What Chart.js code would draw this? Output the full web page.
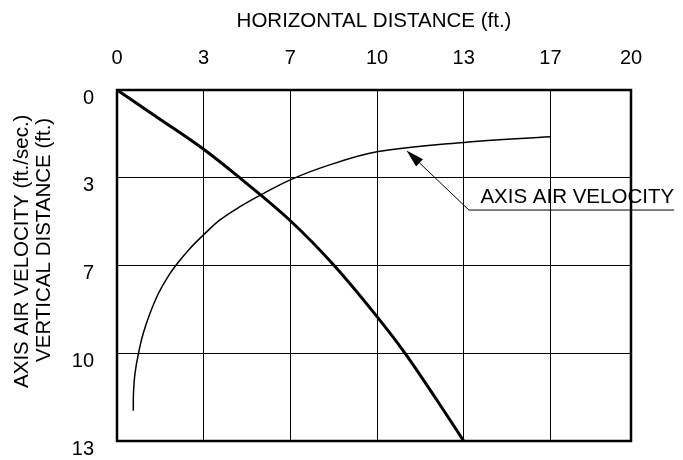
<!DOCTYPE html>
<html>
<head>
<meta charset="utf-8">
<script src="https://cdn.jsdelivr.net/npm/chart.js@4.4.1/dist/chart.umd.min.js"></script>
<style>
  html, body { margin: 0; padding: 0; background: #fff; }
  #wrap { width: 683px; height: 460px; }
</style>
</head>
<body>
<div id="wrap"><canvas id="chart"></canvas></div>
<script>
// values are in grid units: 1 unit = one column / one row of the drawing grid
const xTickLabels = ['0', '3', '7', '10', '13', '17', '20'];
const yTickLabels = ['0', '3', '7', '10', '13'];

// vertical distance (thick curve)
const trajectoryX = [0, 0.5, 1.0, 1.4, 2.0, 2.5, 3.0, 3.33, 3.69, 4.0];
const trajectoryY = [0, 0.335, 0.676, 0.988, 1.49, 1.994, 2.583, 3.009, 3.533, 4.0];

// axis air velocity (thin curve)
const velocityX = [0.188, 0.19, 0.208, 0.246, 0.303, 0.381, 0.476, 0.592, 0.707, 0.842, 1.004, 1.188, 1.419, 1.669, 2.0, 2.419, 3.0, 4.0, 5.0];
const velocityY = [3.655, 3.456, 3.228, 3.009, 2.773, 2.545, 2.322, 2.120, 1.963, 1.805, 1.645, 1.481, 1.330, 1.189, 1.024, 0.865, 0.705, 0.598, 0.532];

const FONT = '"Liberation Sans", Arial, sans-serif';
Chart.defaults.font.family = FONT;
Chart.defaults.color = '#000';

const toPoints = (xs, ys) => xs.map((x, i) => ({x: x, y: ys[i]}));

// the last column of the source grid is a little narrower than the others
const xTickAt = [0, 1, 2, 3, 4, 5, 5.93];

const framePlugin = {
    id: 'frame',
    afterDatasetsDraw(chart) {
        const {ctx, chartArea: a} = chart;
        ctx.save();
        ctx.strokeStyle = '#000';
        ctx.lineWidth = 2.5;
        ctx.strokeRect(a.left, a.top, a.right - a.left, a.bottom - a.top);
        ctx.restore();
    }
};

const calloutPlugin = {
    id: 'callout',
    afterDraw(chart, args, opts) {
        const {ctx, scales: {x, y}} = chart;
        const tx = x.getPixelForValue(opts.tip.x), ty = y.getPixelForValue(opts.tip.y);
        const ex = x.getPixelForValue(opts.elbow.x), ey = y.getPixelForValue(opts.elbow.y);
        ctx.save();
        ctx.font = '20.5px ' + FONT;
        const w = ctx.measureText(opts.text).width;
        ctx.strokeStyle = '#000';
        ctx.fillStyle = '#000';
        ctx.lineWidth = 1;

        // arrow head
        const dx = tx - ex, dy = ty - ey;
        const len = Math.sqrt(dx * dx + dy * dy);
        const ux = dx / len, uy = dy / len;
        const bx = tx - ux * 18, by = ty - uy * 18;
        ctx.beginPath();
        ctx.moveTo(tx, ty);
        ctx.lineTo(bx - uy * 5, by + ux * 5);
        ctx.lineTo(bx + uy * 5, by - ux * 5);
        ctx.closePath();
        ctx.fill();

        // leader + underline
        ctx.beginPath();
        ctx.moveTo(bx, by);
        ctx.lineTo(ex, ey);
        ctx.lineTo(ex + 11.5 + w, ey);
        ctx.stroke();

        ctx.textBaseline = 'alphabetic';
        ctx.textAlign = 'left';
        ctx.fillText(opts.text, ex + 11.5, ey - 7);
        ctx.restore();
    }
};

new Chart(document.getElementById('chart'), {
    type: 'line',
    data: {
        datasets: [{
            label: 'Vertical distance',
            data: toPoints(trajectoryX, trajectoryY),
            borderColor: '#000',
            borderWidth: 3,
            pointRadius: 0,
            cubicInterpolationMode: 'monotone',
            fill: false
        }, {
            label: 'Axis air velocity',
            data: toPoints(velocityX, velocityY),
            borderColor: '#000',
            borderWidth: 1.5,
            pointRadius: 0,
            tension: 0.35,
            fill: false
        }]
    },
    options: {
        responsive: true,
        maintainAspectRatio: false,
        animation: false,
        devicePixelRatio: 1,
        layout: {padding: {left: 4, right: 52, top: 0, bottom: 19}},
        plugins: {
            legend: {display: false},
            tooltip: {enabled: false},
            callout: {
                text: 'AXIS AIR VELOCITY',
                tip: {x: 3.34, y: 0.69},
                elbow: {x: 4.06, y: 1.368}
            }
        },
        scales: {
            x: {
                type: 'linear',
                position: 'top',
                min: 0,
                max: 5.93,
                afterBuildTicks: axis => { axis.ticks = xTickAt.map(v => ({value: v})); },
                afterFit: axis => { axis.height = 90; },
                grid: {color: '#000', lineWidth: 1, drawTicks: false},
                border: {display: false},
                ticks: {
                    autoSkip: false,
                    maxRotation: 0,
                    padding: 20,
                    font: {size: 20},
                    callback: (v, i) => xTickLabels[i]
                },
                title: {
                    display: true,
                    text: 'HORIZONTAL DISTANCE (ft.)',
                    font: {size: 20.5},
                    padding: {top: 9.2, bottom: 0}
                }
            },
            y: {
                type: 'linear',
                reverse: true,
                min: 0,
                max: 4,
                afterBuildTicks: axis => { axis.ticks = yTickLabels.map((l, i) => ({value: i})); },
                afterFit: axis => {
                    axis.width = 113;
                    axis.paddingTop = 0;
                    axis.paddingBottom = 0;
                },
                grid: {color: '#000', lineWidth: 1, drawTicks: false},
                border: {display: false},
                ticks: {
                    autoSkip: false,
                    padding: 23,
                    labelOffset: 8,
                    font: {size: 20},
                    callback: (v, i) => yTickLabels[i]
                },
                title: {
                    display: true,
                    text: [' '.repeat(5) + 'AXIS AIR VELOCITY (ft./sec.)', ' '.repeat(9) + 'VERTICAL DISTANCE (ft.)'],
                    font: {size: 20.5, lineHeight: '22px'},
                    padding: {top: 7, bottom: 0}
                }
            }
        }
    },
    plugins: [framePlugin, calloutPlugin]
});
</script>
</body>
</html>
